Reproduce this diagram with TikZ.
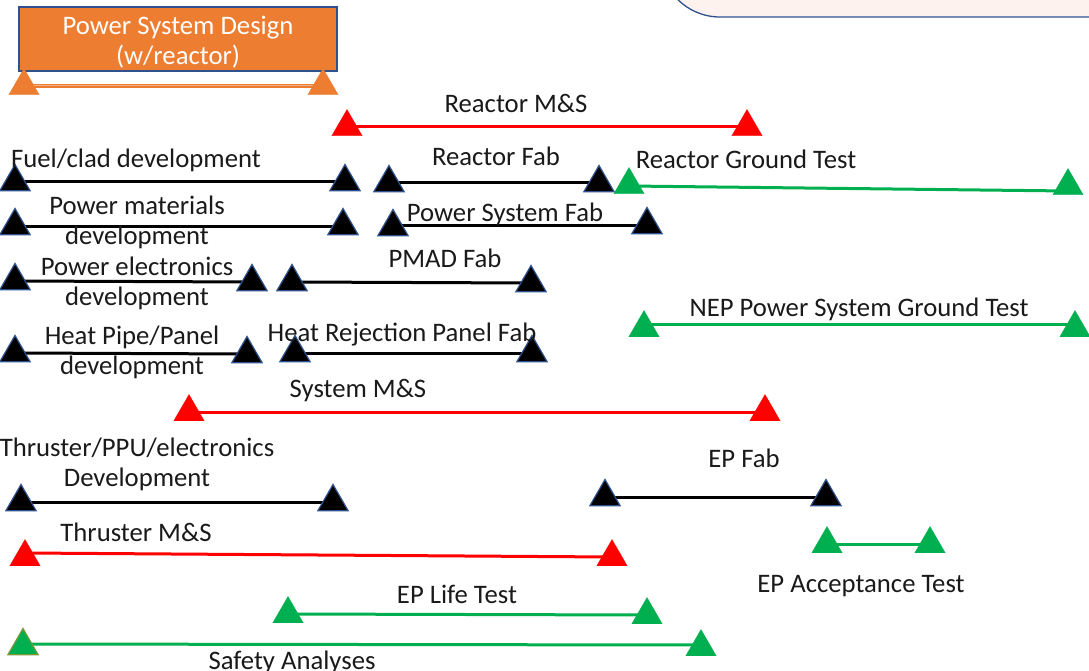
\documentclass[tikz,border=0pt]{standalone}
\usepackage{fontspec}
\setmainfont{Carlito}
\usetikzlibrary{shapes.geometric,backgrounds}
\definecolor{orng}{HTML}{ED7D31}
\definecolor{orngl}{HTML}{F4B183}
\definecolor{redc}{HTML}{FF0000}
\definecolor{grn}{HTML}{00B050}
\definecolor{navy}{HTML}{2F528F}
\definecolor{pinkbg}{HTML}{FDF2EE}
\definecolor{olivec}{HTML}{7A9A3A}
\definecolor{txt}{HTML}{1A1A1A}
\begin{document}
\begin{tikzpicture}[x=1pt,y=-1pt,
  tri/.style={regular polygon, regular polygon sides=3, minimum size=35pt, inner sep=0pt},
  tblk/.style={tri, fill=black, draw=navy, line width=1.2pt},
  tred/.style={tri, fill=redc, draw=redc, line width=0.3pt},
  tgrn/.style={tri, fill=grn, draw=grn, line width=0.3pt},
  torg/.style={tri, fill=orng, draw=orng, line width=0.3pt},
  lbl2/.style={text=txt, font=\fontsize{26.7}{29.5}\selectfont, align=center, inner sep=0pt},
  lbl/.style={lbl2, text height=17.2pt, text depth=0pt},
  bk/.style={draw=black, line width=3pt},
  rd/.style={draw=redc, line width=3pt},
  gn/.style={draw=grn, line width=3pt},
  og/.style={draw=orng, line width=1.1pt, double=orngl, double distance=1pt},
]
\useasboundingbox (0,0) rectangle (1089,671);
\begin{pgfonlayer}{background}
\fill[white] (0,0) rectangle (1089,671);
\end{pgfonlayer}

% partial rounded box top right
\begin{scope}
\clip (0,0) rectangle (1089,671);
\draw[fill=pinkbg, draw=navy, line width=1.3pt, rounded corners=60pt] (660,-120) rectangle (1250,17);
\end{scope}

% Power System Design box
\node[draw=navy, line width=1.8pt, fill=orng, minimum width=318pt, minimum height=64pt, inner sep=0pt] (design) at (178,39) {};
\node[lbl2, text=white] (designtxt) at (178,42) {Power System Design\\(w/reactor)};
\node[torg] (o1) at (24,86) {};
\node[torg] (o2) at (323,86) {};

% Reactor M&S
\node[tred] (r1) at (347,127) {};
\node[tred] (r2) at (747,127) {};
\node[lbl] (lr) at (516,104) {Reactor M\&S};

% Fuel/clad
\node[tblk] (f1) at (15,182) {};
\node[tblk] (f2) at (345,182) {};
\node[lbl] (lf) at (136,159) {Fuel/clad development};

% Reactor Fab
\node[tblk] (rf1) at (389,183) {};
\node[tblk] (rf2) at (599,183) {};
\node[lbl] (lrf) at (496,157) {Reactor Fab};

% Reactor Ground Test
\node[tgrn] (g1) at (629,185) {};
\node[tgrn] (g2) at (1068,186) {};
\node[lbl] (lg) at (746,160) {Reactor Ground Test};

% Power materials
\node[tblk] (pm1) at (15,226) {};
\node[tblk] (pm2) at (343,226) {};
\node[lbl2] (lpm) at (137,222.5) {Power materials\\development};

% Power System Fab
\node[tblk] (ps1) at (393,227) {};
\node[tblk] (ps2) at (647,225) {};
\node[lbl] (lps) at (505,213) {Power System Fab};

% Power electronics
\node[tblk] (pe1) at (15,281) {};
\node[tblk] (pe2) at (252,282) {};
\node[lbl2] (lpe) at (137,283.5) {Power electronics\\development};

% PMAD Fab
\node[tblk] (pd1) at (292,282) {};
\node[tblk] (pd2) at (531,283) {};
\node[lbl] (lpd) at (445,259) {PMAD Fab};

% Heat Pipe/Panel
\node[tblk] (hp1) at (15,353) {};
\node[tblk] (hp2) at (247,354) {};
\node[lbl2] (lhp) at (132,352.5) {Heat Pipe/Panel\\development};

% Heat Rejection Panel Fab
\node[tblk] (hr1) at (295,353) {};
\node[tblk] (hr2) at (532,353) {};
\node[lbl] (lhr) at (402,333) {Heat Rejection Panel Fab};

% NEP Power System Ground Test
\node[tgrn] (n1) at (644,328) {};
\node[tgrn] (n2) at (1075,328) {};
\node[lbl] (ln) at (859,308) {NEP Power System Ground Test};

% System M&S
\node[tred] (sm1) at (189,412) {};
\node[tred] (sm2) at (765,412) {};
\node[lbl] (lsm) at (358,389) {System M\&S};

% Thruster/PPU/electronics Development
\node[tblk] (td1) at (21,502) {};
\node[tblk] (td2) at (333,502) {};
\node[lbl2] (ltd) at (137,464.5) {Thruster/PPU/electronics\\Development};

% EP Fab
\node[tblk] (ef1) at (605,497) {};
\node[tblk] (ef2) at (826,497) {};
\node[lbl] (lef) at (744,459) {EP Fab};

% Thruster M&S
\node[tred] (tm1) at (25,557) {};
\node[tred] (tm2) at (612,557) {};
\node[lbl] (ltm) at (136,533) {Thruster M\&S};

% EP Acceptance Test
\node[tgrn] (ea1) at (827,544) {};
\node[tgrn] (ea2) at (930,544) {};
\node[lbl] (lea) at (861,584) {EP Acceptance Test};

% EP Life Test
\node[tgrn] (el1) at (288,614) {};
\node[tgrn] (el2) at (647,615) {};
\node[lbl] (lel) at (457,595) {EP Life Test};

% Safety Analyses
\node[tri, fill=grn, draw=olivec, line width=1.2pt] (sa1) at (23,646) {};
\node[tgrn] (sa2) at (701,647) {};
\node[lbl] (lsa) at (292,661) {Safety Analyses};

% connectors (behind the triangles)
\begin{pgfonlayer}{background}
\draw[og] (o1.center) -- (o2.center);
\draw[rd] (r1.center) -- (r2.center);
\draw[bk] (f1.center) -- (f2.center);
\draw[bk] (rf1.center) -- (rf2.center);
\draw[gn] ([yshift=-1pt]g1.center) -- ([yshift=-5pt]g2.center);
\draw[bk] (pm1.center) -- (pm2.center);
\draw[bk] ([yshift=2pt]ps1.center) -- (ps2.center);
\draw[bk] (pe1.center) -- (pe2.center);
\draw[bk] (pd1.center) -- (pd2.center);
\draw[bk] (hp1.center) -- (hp2.center);
\draw[bk] (hr1.center) -- (hr2.center);
\draw[gn] ([yshift=4pt]n1.center) -- ([yshift=4pt]n2.center);
\draw[rd] (sm1.center) -- (sm2.center);
\draw[bk] (td1.center) -- (td2.center);
\draw[bk] (ef1.center) -- (ef2.center);
\draw[rd] ([yshift=4pt]tm1.center) -- (tm2.center);
\draw[gn] (ea1.center) -- (ea2.center);
\draw[gn] (el1.center) -- (el2.center);
\draw[gn] ([yshift=2pt]sa1.center) -- ([yshift=2pt]sa2.center);
\end{pgfonlayer}
\end{tikzpicture}
\end{document}
